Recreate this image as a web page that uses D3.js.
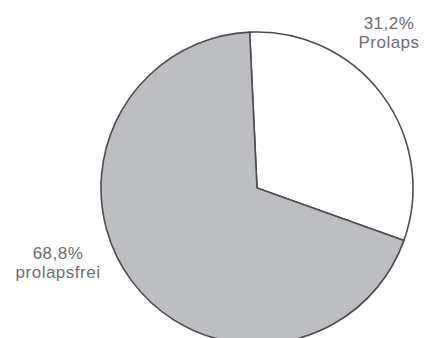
<!DOCTYPE html>
<html>
<head>
<meta charset="utf-8">
<script src="https://cdn.jsdelivr.net/npm/d3@7"></script>
<style>
  html, body { margin: 0; padding: 0; background: #fff; }
  svg { display: block; }
  .lbl { font-family: "Liberation Sans", Arial, sans-serif; font-size: 17px; fill: #6e6e6e; letter-spacing: 0.5px; }
</style>
</head>
<body>
<svg id="chart" width="436" height="338"></svg>
<script>
// Share of patients with and without prolapse
const categories = ["Prolaps", "prolapsfrei"];
const values = [31.2, 68.8];
const fills = ["#ffffff", "#bcbec1"];

const W = 436, H = 338;
const cx = 257, cy = 188, R = 156;
const startDeg = -2.7;

const de = d3.formatLocale({ decimal: ",", thousands: ".", grouping: [3], currency: ["", " €"] });
const fmt = v => de.format(".1f")(v) + "%";

const svg = d3.select("#chart");
const g = svg.append("g").attr("transform", `translate(${cx},${cy})`);

const pie = d3.pie()
  .sort(null)
  .value(d => d.value)
  .startAngle(startDeg * Math.PI / 180)
  .endAngle(startDeg * Math.PI / 180 + 2 * Math.PI);

const arc = d3.arc().innerRadius(0).outerRadius(R);

const data = categories.map((c, i) => ({ name: c, value: values[i], fill: fills[i] }));

g.selectAll("path.slice")
  .data(pie(data))
  .join("path")
  .attr("class", "slice")
  .attr("d", arc)
  .attr("fill", d => d.data.fill)
  .attr("stroke", "#4d4d4d")
  .attr("stroke-width", 1.6)
  .attr("stroke-linejoin", "miter");

// Label anchors, in page coordinates
const labelPos = {
  "Prolaps": { x: 389, y: 28.5 },
  "prolapsfrei": { x: 58, y: 259 }
};
const lineGap = 19;

data.forEach(d => {
  const p = labelPos[d.name];
  const t = svg.append("text")
    .attr("class", "lbl")
    .attr("text-anchor", "middle")
    .attr("x", p.x)
    .attr("y", p.y);
  t.append("tspan").attr("x", p.x).attr("dy", 0).text(fmt(d.value));
  t.append("tspan").attr("x", p.x).attr("dy", lineGap).text(d.name);
});
</script>
</body>
</html>
